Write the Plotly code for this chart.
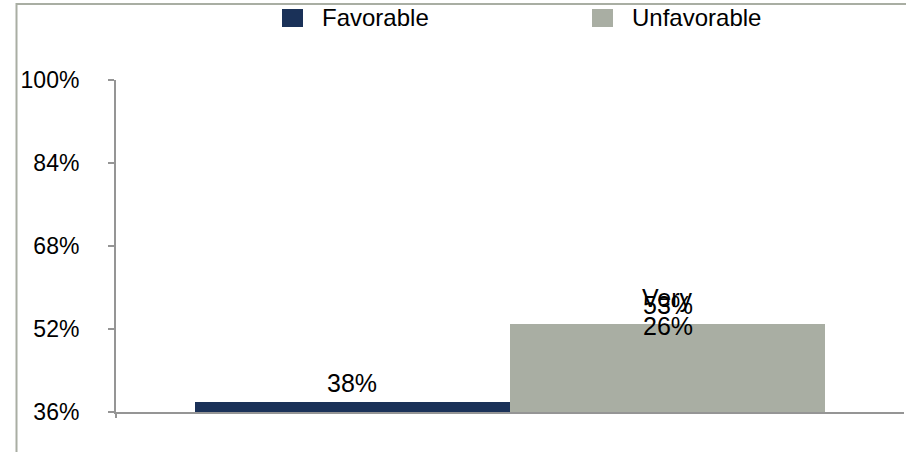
import plotly.graph_objects as go

# ---- data ----
categories = ["Favorable", "Unfavorable"]
values = [0.38, 0.53]
value_labels = ["38%", "53%"]
sub_label_category = "Unfavorable"
sub_label_name = "Very"
sub_label_value = "26%"
bar_colors = ["#1a3158", "#a9aea3"]
y_tick_values = [0.36, 0.52, 0.68, 0.84, 1.00]
y_tick_labels = ["36%", "52%", "68%", "84%", "100%"]

W, H = 906, 452
ML, MR, MT, MB = 116, 2, 80, 40
FONT = "Liberation Sans, Arial, sans-serif"
AXIS_COLOR = "#959595"
FRAME_COLOR = "#a9aea3"
pw = W - ML - MR
ph = H - MT - MB


def px_x(px):
    return (px - ML) / pw


def px_y(py):
    return (H - MB - py) / ph


fig = go.Figure()
for i, (cat, val, col) in enumerate(zip(categories, values, bar_colors)):
    fig.add_trace(go.Bar(
        x=[i], y=[val], base=0, name=cat, marker=dict(color=col, line=dict(width=0)),
        width=1.0, hoverinfo="skip", showlegend=False,
    ))

annotations = []
for i, (val, lab) in enumerate(zip(values, value_labels)):
    annotations.append(dict(x=i, y=val, xref="x", yref="y", text=lab, showarrow=False,
                            yanchor="middle", yshift=19, font=dict(size=25, color="#000")))
sub_i = categories.index(sub_label_category)
annotations.append(dict(x=sub_i, y=values[sub_i], xref="x", yref="y", text=sub_label_name,
                        showarrow=False, yanchor="middle", yshift=26, font=dict(size=25, color="#000")))
annotations.append(dict(x=sub_i, y=values[sub_i], xref="x", yref="y", text=sub_label_value,
                        showarrow=False, yanchor="middle", yshift=-2, font=dict(size=25, color="#000")))

shapes = []
# outer frame (only top and left edges visible)
shapes.append(dict(type="rect", xref="paper", yref="paper",
                   x0=px_x(16.5), x1=px_x(W + 20), y0=px_y(H + 20), y1=px_y(4),
                   line=dict(color=FRAME_COLOR, width=2), fillcolor="rgba(0,0,0,0)", layer="below"))
# tick below the axis corner
shapes.append(dict(type="line", xref="paper", yref="paper", x0=0, x1=0, y0=0, y1=px_y(H - MB + 6),
                   line=dict(color=AXIS_COLOR, width=2)))

# legend drawn from the categories
legend_x0 = 282
legend_step = 310
for k, (cat, col) in enumerate(zip(categories, bar_colors)):
    sx = legend_x0 + k * legend_step
    shapes.append(dict(type="rect", xref="paper", yref="paper",
                       x0=px_x(sx), x1=px_x(sx + 21), y0=px_y(27), y1=px_y(9),
                       line=dict(width=0), fillcolor=col))
    annotations.append(dict(x=px_x(sx + 38), y=px_y(18), xref="paper", yref="paper",
                            text=cat, showarrow=False, xanchor="left", yanchor="middle",
                            font=dict(size=24, color="#000")))

fig.update_layout(
    width=W, height=H,
    margin=dict(l=ML, r=MR, t=MT, b=MB, pad=0),
    paper_bgcolor="white", plot_bgcolor="white",
    font=dict(family=FONT, size=23, color="#000"),
    barmode="overlay", bargap=0,
    showlegend=False,
    xaxis=dict(range=[-0.75, 1.75], showgrid=False, zeroline=False, showline=True,
               linecolor=AXIS_COLOR, linewidth=2, showticklabels=False, ticks=""),
    yaxis=dict(range=[0.36, 1.0], tickvals=y_tick_values, ticktext=y_tick_labels,
               showgrid=False, zeroline=False, showline=True, linecolor=AXIS_COLOR, linewidth=2,
               ticks="outside", ticklen=6, tickwidth=2, tickcolor=AXIS_COLOR,
               ticklabelstandoff=24, tickfont=dict(size=23)),
    annotations=annotations,
    shapes=shapes,
)

fig.write_html("out.html", config={"displayModeBar": False},
               post_script="document.body.style.margin='0';document.body.style.overflow='hidden';")
